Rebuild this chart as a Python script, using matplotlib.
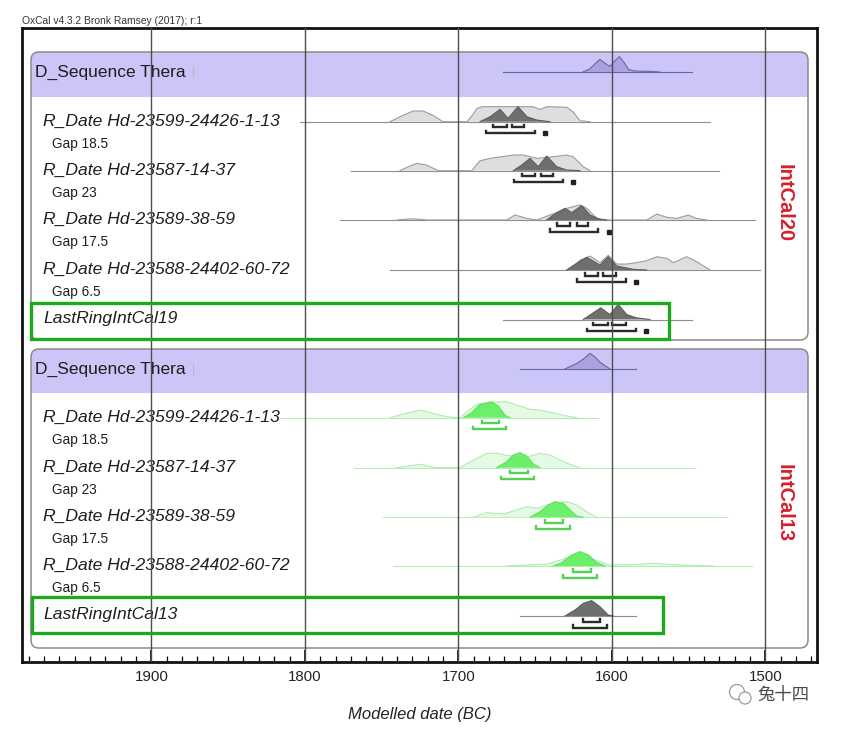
import matplotlib
matplotlib.use('Agg')
import numpy as np
import matplotlib.pyplot as plt
from matplotlib.patches import FancyBboxPatch, Rectangle, Circle
from matplotlib.transforms import Affine2D
from matplotlib.ticker import MultipleLocator

plt.rcParams['font.family'] = ['Liberation Sans', 'DejaVu Sans']

# ---- text ----
rdate_labels = ["R_Date Hd-23599-24426-1-13", "R_Date Hd-23587-14-37",
                "R_Date Hd-23589-38-59", "R_Date Hd-23588-24402-60-72"]
gap_labels = ["Gap 18.5", "Gap 23", "Gap 17.5", "Gap 6.5"]
last_labels = ["LastRingIntCal19", "LastRingIntCal13"]
curve_names = ["IntCal20", "IntCal13"]
year_ticks = [1900, 1800, 1700, 1600, 1500]

# ---- IntCal20 block (years BC, relative probability 0-100) ----
seq20_yr = [1618.8, 1614.3, 1610.5, 1607.7, 1604.5, 1601.2, 1598, 1595.1, 1592, 1589, 1585, 1575, 1568.6]
seq20_p = [0, 20, 55, 79, 55, 35, 70, 96, 60, 15, 6, 4, 0]
seq20_span = (1671, 1548)

like20_1_yr = [1744.5, 1738, 1729.5, 1723, 1716.5, 1710, 1694.3, 1691.1, 1687.8, 1684.2, 1651.3, 1646.8, 1642.2, 1629.2, 1625.3, 1620.7, 1614.2]
like20_1_p = [0, 31, 67, 67, 40, 0, 0, 38, 83, 94, 94, 77, 94, 90, 62, 6, 0]
post20_1_yr = [1685.9, 1679.3, 1672.8, 1667.6, 1661.1, 1655.3, 1648.7, 1640.3]
post20_1_p = [0, 31, 77, 21, 94, 31, 10, 0]
rng68_20_1 = [(1677.4, 1668.3), (1665.0, 1657.2)]
rng95_20_1 = [(1682.0, 1650.0)]
mean20_1 = 1643.5
span20_1 = (1803, 1536)

like20_2_yr = [1738, 1732.6, 1727.1, 1720.6, 1713, 1691.3, 1685.9, 1679.3, 1664.2, 1657.7, 1648.9, 1638.1, 1629.4, 1625.1, 1618.6, 1614.2]
like20_2_p = [0, 25, 46, 35, 0, 0, 62, 77, 98, 98, 77, 87, 98, 87, 25, 0]
post20_2_yr = [1664.2, 1658.7, 1653.3, 1647.9, 1642.4, 1635.9, 1629.4, 1620.7]
post20_2_p = [0, 35, 77, 25, 92, 25, 4, 0]
rng68_20_2 = [(1658.7, 1650.0), (1646.1, 1638.1)]
rng95_20_2 = [(1663.7, 1631.6)]
mean20_2 = 1625.5
span20_2 = (1770, 1530)

like20_3_yr = [1740, 1730, 1720, 1668.5, 1663.1, 1655.4, 1648.9, 1640.3, 1629.4, 1620.7, 1616.3, 1609.8, 1603.3, 1577.3, 1570.7, 1564.2, 1557.7, 1550.2, 1544.7, 1538.2]
like20_3_p = [0, 8, 0, 0, 31, 10, 0, 31, 73, 94, 73, 10, 0, 0, 37, 17, 10, 31, 10, 0]
post20_3_yr = [1642.4, 1638.1, 1630.5, 1626.1, 1619.6, 1614.2, 1607.7, 1603.3]
post20_3_p = [0, 31, 73, 46, 90, 31, 4, 0]
rng68_20_3 = [(1635.9, 1627.2), (1622.9, 1615.3)]
rng95_20_3 = [(1640.3, 1608.8)]
mean20_3 = 1601.6
span20_3 = (1777, 1507)

like20_4_yr = [1627.2, 1620.7, 1614.2, 1607.7, 1602.3, 1596.8, 1590.3, 1583.8, 1577.3, 1570.7, 1564.2, 1559.9, 1551.2, 1544.7, 1536]
like20_4_p = [0, 62, 87, 46, 92, 37, 37, 46, 58, 83, 73, 46, 83, 52, 0]
post20_4_yr = [1629.4, 1622.9, 1616.3, 1607.7, 1602.3, 1596.8, 1586, 1577.3]
post20_4_p = [0, 42, 79, 31, 83, 25, 4, 0]
rng68_20_4 = [(1617.5, 1608.8), (1605.5, 1597.3)]
rng95_20_4 = [(1622.9, 1590.7)]
mean20_4 = 1584.2
span20_4 = (1744.5, 1503.6)

last20_yr = [1618.6, 1612, 1607.2, 1601.2, 1595.8, 1590.3, 1583.8, 1575.1]
last20_p = [0, 42, 73, 31, 94, 31, 10, 0]
rng68_last20 = [(1612.0, 1602.3), (1600.1, 1590.7)]
rng95_last20 = [(1616.3, 1584.2)]
mean_last20 = 1577.7
span_last20 = (1670.7, 1547.9)

# ---- IntCal13 block ----
seq13_yr = [1630.5, 1622.9, 1618.6, 1614.2, 1610.9, 1607.7, 1601.2]
seq13_p = [0, 35, 62, 98, 75, 42, 0]
seq13_span = (1659.8, 1584.2)

like13_1_yr = [1744.5, 1734.8, 1725, 1716.5, 1707.6, 1698.9, 1692.4, 1688, 1679.3, 1668.5, 1666.3, 1659.8, 1653.3, 1646.8, 1640.3, 1631.6, 1622.9]
like13_1_p = [0, 25, 48, 27, 6, 0, 52, 83, 98, 98, 94, 73, 52, 48, 35, 15, 0]
post13_1_yr = [1696.7, 1691.3, 1685.9, 1678.2, 1673.9, 1669.6, 1666.3]
post13_1_p = [0, 31, 83, 98, 73, 15, 0]
rng68_13_1 = [(1684.8, 1673.3)]
rng95_13_1 = [(1690.6, 1668.9)]
span13_1 = (1816, 1609)

like13_2_yr = [1740.1, 1725, 1714.1, 1699, 1690.2, 1681.5, 1675, 1668.5, 1655.4, 1646.8, 1640.3, 1633.8, 1627.2, 1620.7]
like13_2_p = [0, 21, 0, 0, 48, 90, 90, 77, 67, 90, 79, 48, 21, 0]
post13_2_yr = [1675, 1668.5, 1664.2, 1659.8, 1655.4, 1651.1, 1646.8]
post13_2_p = [0, 37, 79, 94, 73, 23, 0]
rng68_13_2 = [(1666.3, 1654.4)]
rng95_13_2 = [(1672.2, 1650.5)]
span13_2 = (1768.3, 1545.8)

like13_3_yr = [1690.2, 1681.5, 1670.7, 1662, 1655.4, 1648.9, 1642.4, 1629.4, 1622.9, 1616.3, 1609.8]
like13_3_p = [0, 29, 21, 46, 67, 56, 77, 98, 77, 35, 0]
post13_3_yr = [1653.3, 1646.8, 1641.4, 1637, 1631.6, 1627.2, 1622.9, 1618.6]
post13_3_p = [0, 35, 77, 98, 87, 46, 8, 0]
rng68_13_3 = [(1643.5, 1631.6)]
rng95_13_3 = [(1649.4, 1627.2)]
span13_3 = (1748.9, 1525.1)

like13_4_yr = [1668.5, 1642.4, 1633.7, 1620.7, 1609.8, 1601.2, 1586, 1573, 1555.6, 1533.9]
like13_4_p = [0, 12, 37, 79, 33, 6, 8, 17, 6, 0]
post13_4_yr = [1638.1, 1632.6, 1626.1, 1620.7, 1615.3, 1609.8, 1604.4]
post13_4_p = [0, 21, 69, 90, 69, 21, 0]
rng68_13_4 = [(1625.5, 1613.7)]
rng95_13_4 = [(1632.0, 1609.4)]
span13_4 = (1742.3, 1508.9)

last13_yr = [1630.5, 1624, 1618.6, 1613.1, 1607.7, 1602.3, 1599]
last13_p = [0, 37, 79, 96, 58, 6, 0]
rng68_last13 = [(1619.0, 1607.7)]
rng95_last13 = [(1625.5, 1603.3)]
span_last13 = (1659.8, 1584.2)

# ---- figure / layout (pixel units, y from top) ----
W, H = 841, 733
fig = plt.figure(figsize=(W / 100, H / 100), dpi=100)
ax = fig.add_axes([22.3 / W, 1 - 662 / H, (817 - 22.3) / W, (662 - 27.7) / H])
px = Affine2D().scale(1, -1).translate(0, H)
SCALE = 0.16  # px per probability unit

GRAY = dict(like_f='#dedede', like_e='#9c9c9c', post_f='#6f6f6f', post_e='#5c5c5c',
            base='#8f8f8f', brk='#2b2b2b')
GREEN = dict(like_f='#e4fae4', like_e='#b2ecb2', post_f='#6cf06c', post_e='#5fe05f',
             base='#b5ecb5', brk='#55d255')
SEQ = dict(post_f='#aaa2de', post_e='#6d64a6', base='#6d64a6')


def dist(yr, p, base, face, edge, z):
    yr = np.asarray(yr, float)
    top = base - np.asarray(p, float) * SCALE
    ax.fill_between(yr, base, top, facecolor=face, edgecolor='none', zorder=z)
    ax.plot(yr, top, color=edge, lw=0.8, zorder=z + 0.05)


def bracket(a, b, y, color):
    ax.plot([a, a, b, b], [y - 2.5, y, y, y - 2.5], color=color, lw=1.7,
            solid_joinstyle='miter', zorder=3.2)


def row(base, span, st, like=None, post=None, r68=(), r95=(), mean=None):
    ax.plot(span, [base, base], color=st['base'], lw=0.8, zorder=2)
    if like is not None:
        dist(like[0], like[1], base, st['like_f'], st['like_e'], 2.2)
    if post is not None:
        dist(post[0], post[1], base, st['post_f'], st['post_e'], 2.5)
    for a, b in r68:
        bracket(a, b, base + 5.5, st['brk'])
    for a, b in r95:
        bracket(a, b, base + 11.5, st['brk'])
    if mean is not None:
        ax.plot([mean], [base + 11.5], marker='s', ms=2.2, color='#222222', zorder=3.2)


def panel(top, bottom, band_bottom):
    x0, w = 31, 777
    band = FancyBboxPatch((x0, top), w, band_bottom - top, boxstyle='round,pad=0,rounding_size=8',
                          transform=px, facecolor='#cbc6f7', edgecolor='none', zorder=1.1)
    ax.add_patch(band)
    ax.add_patch(Rectangle((x0, (top + band_bottom) / 2), w, (band_bottom - top) / 2, transform=px,
                           facecolor='#cbc6f7', edgecolor='none', zorder=1.1))
    ax.add_patch(FancyBboxPatch((x0, top), w, bottom - top, boxstyle='round,pad=0,rounding_size=8',
                                transform=px, facecolor='none', edgecolor='#8a8a8a', lw=1.1, zorder=1.3))


blocks = [
    dict(top=52, bottom=340, band=97, seq_y=72, rows_y=[121.7, 170.7, 220, 270], last_y=319.5,
         seq=(seq20_yr, seq20_p, seq20_span), st=GRAY,
         rows=[((like20_1_yr, like20_1_p), (post20_1_yr, post20_1_p), rng68_20_1, rng95_20_1, mean20_1, span20_1),
               ((like20_2_yr, like20_2_p), (post20_2_yr, post20_2_p), rng68_20_2, rng95_20_2, mean20_2, span20_2),
               ((like20_3_yr, like20_3_p), (post20_3_yr, post20_3_p), rng68_20_3, rng95_20_3, mean20_3, span20_3),
               ((like20_4_yr, like20_4_p), (post20_4_yr, post20_4_p), rng68_20_4, rng95_20_4, mean20_4, span20_4)],
         last=((last20_yr, last20_p), rng68_last20, rng95_last20, mean_last20, span_last20),
         green=(31, 303, 669, 339), name_y=203),
    dict(top=349, bottom=648, band=393, seq_y=369, rows_y=[417.7, 467.7, 517.3, 566], last_y=616,
         seq=(seq13_yr, seq13_p, seq13_span), st=GREEN,
         rows=[((like13_1_yr, like13_1_p), (post13_1_yr, post13_1_p), rng68_13_1, rng95_13_1, None, span13_1),
               ((like13_2_yr, like13_2_p), (post13_2_yr, post13_2_p), rng68_13_2, rng95_13_2, None, span13_2),
               ((like13_3_yr, like13_3_p), (post13_3_yr, post13_3_p), rng68_13_3, rng95_13_3, None, span13_3),
               ((like13_4_yr, like13_4_p), (post13_4_yr, post13_4_p), rng68_13_4, rng95_13_4, None, span13_4)],
         last=((last13_yr, last13_p), rng68_last13, rng95_last13, None, span_last13),
         green=(32, 597, 663, 633), name_y=503),
]

for i, b in enumerate(blocks):
    panel(b['top'], b['bottom'], b['band'])
    # sequence header
    sy, sp, ss = b['seq']
    row(b['seq_y'], ss, SEQ, post=(sy, sp))
    ax.text(35, b['seq_y'], "D_Sequence Thera", transform=px, fontsize=12.5, color='#1e1e1e',
            va='center', ha='left', zorder=3.5)
    ax.text(192, b['seq_y'], "|", transform=px, fontsize=9, color='#b8b8b8', va='center', zorder=3.5)
    for k, (like, post, r68, r95, mean, span) in enumerate(b['rows']):
        y = b['rows_y'][k]
        row(y, span, b['st'], like=like, post=post, r68=r68, r95=r95, mean=mean)
        ax.text(43, y - 0.5, rdate_labels[k], transform=px, fontsize=12.6, style='italic',
                color='#1e1e1e', va='center', ha='left', zorder=3.5)
        ax.text(52, y + 22, gap_labels[k], transform=px, fontsize=9.8, color='#1e1e1e',
                va='center', ha='left', zorder=3.5)
    lp, l68, l95, lmean, lspan = b['last']
    row(b['last_y'], lspan, GRAY, post=lp, r68=l68, r95=l95, mean=lmean)
    ax.text(43, b['last_y'] - 1.5, last_labels[i], transform=px, fontsize=12.6, style='italic',
            color='#1e1e1e', va='center', ha='left', zorder=3.5)
    gx0, gy0, gx1, gy1 = b['green']
    ax.add_patch(Rectangle((gx0, gy0), gx1 - gx0, gy1 - gy0, transform=px, facecolor='none',
                           edgecolor='#1ea81e', lw=2.4, zorder=6))
    ax.text(784, b['name_y'], curve_names[i], transform=px, rotation=270, fontsize=14.5,
            fontweight='bold', color='#d6202c', va='center', ha='center', zorder=3.5)

# grid lines at the labelled years
for yv in year_ticks:
    ax.axvline(yv, color='#4d4d4d', lw=1.0, zorder=4)

ax.set_xlim(1984.1, 1466.3)
ax.set_ylim(662, 27.7)
ax.set_xticks(year_ticks)
ax.set_xticklabels([str(v) for v in year_ticks], fontsize=10.8, color='#222222')
ax.xaxis.set_minor_locator(MultipleLocator(10))
ax.tick_params(axis='x', which='major', direction='in', length=9, width=1.2, pad=6)
ax.tick_params(axis='x', which='minor', direction='in', length=4.5, width=0.9)
ax.set_yticks([])
for s in ax.spines.values():
    s.set_linewidth(2.0)
    s.set_color('#111111')

ax.text(420, 714, "Modelled date (BC)", transform=px, fontsize=12, style='italic',
        color='#222222', ha='center', va='center', clip_on=False)
ax.text(22, 20.5, "OxCal v4.3.2 Bronk Ramsey (2017); r:1", transform=px, fontsize=7.4,
        color='#333333', ha='left', va='center', clip_on=False)

# watermark
ax.add_patch(Circle((737, 692), 7.5, transform=px, facecolor='none', edgecolor='#9a9a9a', lw=0.9, clip_on=False))
ax.add_patch(Circle((745, 698), 6, transform=px, facecolor='white', edgecolor='#9a9a9a', lw=0.9, clip_on=False))
ax.text(784, 695, "兔十四", transform=px, fontsize=12.5, color='#4a4a4a', ha='center', va='center',
        family=['Noto Sans CJK SC', 'DejaVu Sans'], clip_on=False)

fig.savefig('out.png', dpi=100)
